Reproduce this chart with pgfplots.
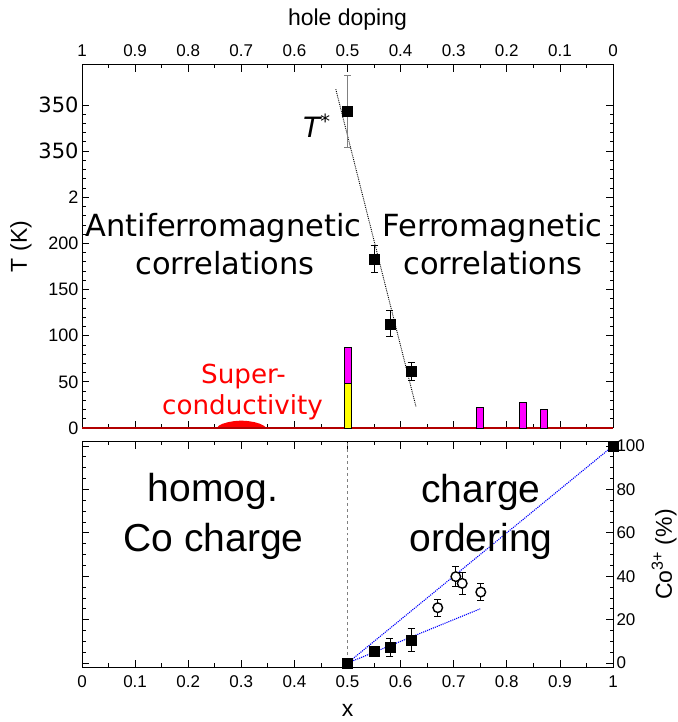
\documentclass[border=0pt]{standalone}
\usepackage{fontspec}
\setmainfont{Liberation Sans}
\newfontfamily\dejavu{DejaVu Sans}
\usepackage{pgfplots}
\pgfplotsset{compat=1.18}
\definecolor{mag}{RGB}{255,0,255}
\definecolor{yel}{RGB}{255,255,0}
\newcommand{\fs}[1]{\fontsize{#1bp}{#1bp}\selectfont}
\begin{document}
\begin{tikzpicture}
\useasboundingbox (0,0) rectangle (678bp,722bp);
\pgfplotsset{
  common/.style={
    scale only axis, anchor=south west, width=531bp,
    xmin=0, xmax=1,
    xtick={0,0.1,0.2,0.3,0.4,0.5,0.6,0.7,0.8,0.9,1},
    minor x tick num=1,
    major tick length=7bp, minor tick length=3.5bp,
    every tick/.style={black, line width=0.8bp},
    axis line style={line width=1bp},
    tick label style={font=\fs{17}},
    /pgf/number format/assume math mode=true,
    label style={font=\fs{23}},
    clip=false,
  }
}
% ---------- top panel ----------
\begin{axis}[common,
  at={(82bp,294bp)}, height=363bp,
  ymin=0, ymax=393.3,
  xticklabels={1,0.9,0.8,0.7,0.6,0.5,0.4,0.3,0.2,0.1,0},
  xticklabel pos=upper,
  xticklabel style={yshift=5bp},
  ytick={0,50,100,150,200,250,300,350},
  yticklabels={0,50,100,150,200,2,{\dejavu\fs{21}350},{\dejavu\fs{21}350}},
  yticklabel style={font=\fs{18}},
  minor y tick num=4,
  xlabel={hole doping}, ylabel={T (K)},
  xlabel style={yshift=7bp},
]
\addplot[fill=red, draw=none] coordinates {(0.254,0) (0.258,2.6) (0.265,4.6) (0.275,6.3) (0.287,7.5) (0.30,8) (0.313,7.5) (0.325,6.3) (0.335,4.6) (0.342,2.6) (0.348,0)} --cycle;
\addplot[red!70!black, line width=1.6bp] coordinates {(0,0) (1,0)};
\addplot[ybar, bar width=7bp, fill=mag, draw=black, line width=0.6bp] coordinates {(0.5,87) (0.75,22) (0.83,28) (0.87,20.5)};
\addplot[ybar, bar width=7bp, fill=yel, draw=black, line width=0.6bp] coordinates {(0.5,48)};
\addplot[black, densely dotted, line width=0.9bp] coordinates {(0.478,367) (0.629,23)};
\addplot[only marks, mark=square*, mark size=5bp, black,
  error bars/.cd, y dir=both, y explicit,
  error bar style={line width=0.9bp, gray},
  error mark options={rotate=90, mark size=3.5bp, gray, line width=0.9bp}]
  coordinates {(0.5,343) +- (0,39)};
\addplot[only marks, mark=square*, mark size=5bp, black,
  error bars/.cd, y dir=both, y explicit,
  error bar style={line width=0.9bp, black},
  error mark options={rotate=90, mark size=3.5bp, black, line width=0.9bp}]
  coordinates {(0.55,183) +- (0,15) (0.58,113) +- (0,14) (0.62,61) +- (0,10)};
\end{axis}
% ---------- bottom panel ----------
\begin{axis}[common,
  at={(82bp,55bp)}, height=225bp,
  ymin=-1.8, ymax=101.8,
  xticklabels={0,0.1,0.2,0.3,0.4,0.5,0.6,0.7,0.8,0.9,1},
  xticklabel style={yshift=-5bp},
  ytick={0,20,40,60,80,100},
  minor y tick num=3,
  yticklabel pos=right,
  xlabel={x}, ylabel={Co\textsuperscript{3+} (\%)},
  xlabel style={yshift=-10bp},
]
\addplot[gray, dashed, line width=1bp] coordinates {(0.5,-1.8) (0.5,101.8)};
\addplot[blue, densely dotted, line width=1.1bp] coordinates {(0.5,0) (1,100)};
\addplot[blue, densely dotted, line width=1.1bp] coordinates {(0.5,0) (0.75,25)};
\addplot[only marks, mark=*, mark size=4.8bp, black, mark options={fill=white, line width=1.4bp},
  error bars/.cd, y dir=both, y explicit,
  error bar style={line width=0.9bp, black},
  error mark options={rotate=90, mark size=3.5bp, black, line width=0.9bp}]
  coordinates {(0.67,25.5) +- (0,4) (0.704,39.8) +- (0,4.6) (0.716,36.7) +- (0,5) (0.751,32.7) +- (0,4)};
\addplot[only marks, mark=square*, mark size=5bp, black,
  error bars/.cd, y dir=both, y explicit,
  error bar style={line width=0.9bp, black},
  error mark options={rotate=90, mark size=3.5bp, black, line width=0.9bp}]
  coordinates {(0.5,0) (0.55,5.5) +- (0,2) (0.58,7.2) +- (0,4) (0.62,10.6) +- (0,5.2) (1,100)};
\end{axis}
% ---------- annotations ----------
\begin{scope}[every node/.style={inner sep=0pt, anchor=base}]
\node[font=\dejavu\fs{30.5}] at (223.5bp,485bp) {Antiferromagnetic};
\node[font=\dejavu\fs{30.5}] at (225bp,447bp) {correlations};
\node[font=\dejavu\fs{30.5}] at (492.5bp,485bp) {Ferromagnetic};
\node[font=\dejavu\fs{30.5}] at (493bp,447bp) {correlations};
\node[font=\dejavu\fs{26.2}, text=red] at (243.5bp,338bp) {Super-};
\node[font=\dejavu\fs{26.2}, text=red] at (242.5bp,307bp) {conductivity};
\node[font=\dejavu\fs{28}, anchor=base west] at (303bp,584bp) {\itshape T\textsuperscript{\upshape *}};
\node[font=\fs{39}] at (213bp,220bp) {homog.};
\node[font=\fs{39}] at (213.5bp,170bp) {Co charge};
\node[font=\fs{39}] at (481bp,219bp) {charge};
\node[font=\fs{39}] at (481bp,170bp) {ordering};
\end{scope}
\end{tikzpicture}
\end{document}
